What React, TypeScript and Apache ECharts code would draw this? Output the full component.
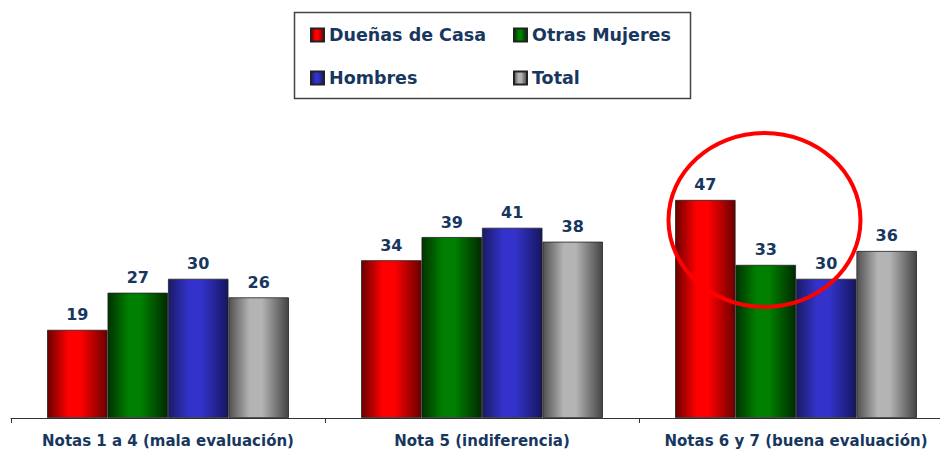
import React, { useEffect, useRef } from "react";
import * as echarts from "echarts";

const categories = ["Notas 1 a 4 (mala evaluación)", "Nota 5 (indiferencia)", "Notas 6 y 7 (buena evaluación)"];
const seriesNames = ["Dueñas de Casa", "Otras Mujeres", "Hombres", "Total"];
const duenas = [19, 34, 47];
const otras = [27, 39, 33];
const hombres = [30, 41, 30];
const total = [26, 38, 36];

const navy = "#17375E";
const font = "DejaVu Sans";

function grad(dark: string, bright: string, dark2: string) {
  return new echarts.graphic.LinearGradient(0, 0, 1, 0, [
    { offset: 0, color: dark },
    { offset: 0.35, color: bright },
    { offset: 0.55, color: bright },
    { offset: 1, color: dark2 },
  ]);
}

const colors = [
  grad("#6a0000", "#ff0000", "#6a0000"),
  grad("#003300", "#008000", "#002a00"),
  grad("#1a1a66", "#3333cc", "#161660"),
  grad("#505050", "#b4b4b4", "#444444"),
];

const dataSets = [duenas, otras, hombres, total];

export default function App() {
  const ref = useRef<HTMLDivElement>(null);
  useEffect(() => {
    const chart = echarts.init(ref.current!, undefined, { renderer: "svg" });
    const legendText = { color: navy, fontSize: 17.5, fontWeight: "bold", fontFamily: font };
    chart.setOption({
      animation: false,
      backgroundColor: "#ffffff",
      textStyle: { fontFamily: font },
      legend: [
        {
          data: [seriesNames[0], seriesNames[2]],
          orient: "vertical",
          left: 305,
          top: 21,
          itemGap: 25,
          itemWidth: 13,
          itemHeight: 13,
          icon: "rect",
          textStyle: legendText,
        },
        {
          data: [seriesNames[1], seriesNames[3]],
          orient: "vertical",
          left: 508,
          top: 21,
          itemGap: 25,
          itemWidth: 13,
          itemHeight: 13,
          icon: "rect",
          textStyle: legendText,
        },
      ],
      grid: {
        left: 11,
        width: 942,
        top: 139.6,
        height: 278.4,
        containLabel: false,
        outerBoundsMode: "none",
      },
      xAxis: {
        type: "category",
        data: categories,
        axisLine: { lineStyle: { color: "#333", width: 1 } },
        axisTick: { show: true, length: 5, lineStyle: { color: "#333" } },
        axisLabel: { interval: 0, color: navy, fontSize: 15, fontWeight: "bold", margin: 15, fontFamily: font },
      },
      yAxis: { type: "value", min: 0, max: 60, show: false, splitLine: { show: false } },
      series: seriesNames.map((name, i) => ({
        name,
        type: "bar",
        data: dataSets[i],
        barGap: "0%",
        barCategoryGap: "23%",
        itemStyle: { color: colors[i], borderColor: "#222", borderWidth: 0.8 },
        label: {
          show: true,
          position: "top",
          distance: 7,
          color: navy,
          fontSize: 16,
          fontWeight: "bold",
          fontFamily: font,
        },
      })),
      graphic: [
        {
          type: "rect",
          shape: { x: 294.5, y: 12.5, width: 396, height: 86 },
          style: { fill: "none", stroke: "#444", lineWidth: 1.5 },
          z: 10,
        },
        {
          type: "ellipse",
          shape: { cx: 764.5, cy: 220, rx: 96, ry: 87 },
          style: { fill: "none", stroke: "#ff0000", lineWidth: 4 },
          z: 20,
        },
      ],
    });
    return () => chart.dispose();
  }, []);
  return <div ref={ref} style={{ width: 940, height: 451, position: "absolute", left: 0, top: 0 }} />;
}
